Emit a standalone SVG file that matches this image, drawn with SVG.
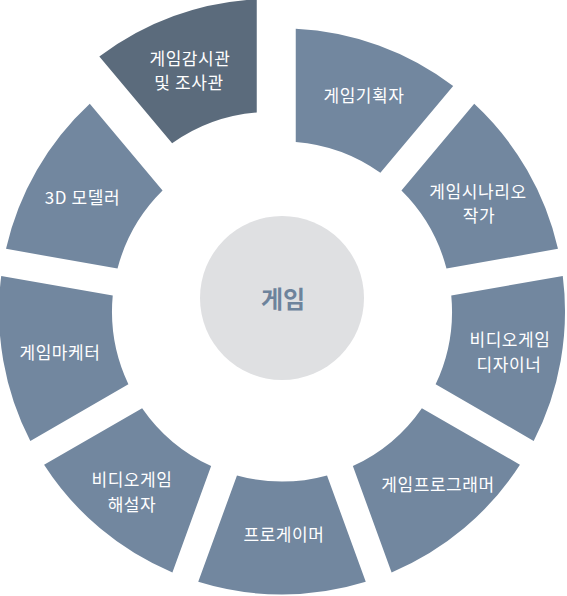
<svg xmlns="http://www.w3.org/2000/svg" width="567" height="596" viewBox="0 0 567 596">
<style>
.seg{fill:#72879f}
.dark{fill:#5b6b7c}
.lbl{font-family:"Noto Sans CJK KR","Noto Sans",sans-serif;font-size:17px;letter-spacing:0.6px;fill:#ffffff;text-anchor:middle}
.hub{fill:#dfe0e2}
.hubt{font-family:"Noto Sans CJK KR","Noto Sans",sans-serif;font-size:24px;font-weight:bold;fill:#6d839c;text-anchor:middle}
</style>
<rect width="567" height="596" fill="#ffffff"/>
<g id="n-inspector" transform="translate(-11.5,-29.5)">
<path class="dark" d="M110.83 86.12 A283 283 0 0 1 268.25 28.83 L268.25 142.06 A170 170 0 0 0 183.62 172.86 Z"/>
<text class="lbl" x="201.5" y="94">게임감시관</text>
<text class="lbl" x="200.5" y="118">및 조사관</text>
</g>
<g id="n-planner">
<path class="seg" d="M295.75 28.83 A283 283 0 0 1 453.17 86.12 L380.38 172.86 A170 170 0 0 0 295.75 142.06 Z"/>
<text class="lbl" x="364" y="102">게임기획자</text>
</g>
<g id="n-scenario">
<path class="seg" d="M474.23 103.8 A283 283 0 0 1 557.99 248.87 L446.48 268.54 A170 170 0 0 0 401.44 190.54 Z"/>
<text class="lbl" x="478" y="198">게임시나리오</text>
<text class="lbl" x="479" y="222">작가</text>
</g>
<g id="n-designer">
<path class="seg" d="M562.77 275.95 A283 283 0 0 1 533.68 440.93 L435.62 384.31 A170 170 0 0 0 451.26 295.62 Z"/>
<text class="lbl" x="510" y="345.5">비디오게임</text>
<text class="lbl" x="509" y="370.5">디자이너</text>
</g>
<g id="n-programmer">
<path class="seg" d="M519.93 464.75 A283 283 0 0 1 391.6 572.42 L352.87 466.02 A170 170 0 0 0 421.87 408.13 Z"/>
<text class="lbl" x="438" y="490.5">게임프로그래머</text>
</g>
<g id="n-progamer">
<path class="seg" d="M365.76 581.82 A283 283 0 0 1 198.24 581.82 L236.97 475.42 A170 170 0 0 0 327.03 475.42 Z"/>
<text class="lbl" x="284" y="540.5">프로게이머</text>
</g>
<g id="n-caster">
<path class="seg" d="M172.4 572.42 A283 283 0 0 1 44.08 464.75 L142.14 408.13 A170 170 0 0 0 211.13 466.02 Z"/>
<text class="lbl" x="132" y="485.5">비디오게임</text>
<text class="lbl" x="132" y="510.5">해설자</text>
</g>
<g id="n-marketer">
<path class="seg" d="M30.33 440.93 A283 283 0 0 1 1.23 275.95 L112.74 295.62 A170 170 0 0 0 128.39 384.31 Z"/>
<text class="lbl" x="60" y="359">게임마케터</text>
</g>
<g id="n-modeler">
<path class="seg" d="M6.01 248.87 A283 283 0 0 1 89.77 103.8 L162.56 190.54 A170 170 0 0 0 117.52 268.54 Z"/>
<text class="lbl" x="82.5" y="204">3D 모델러</text>
</g>
<g id="n-game">
<circle class="hub" cx="282" cy="298" r="82"/>
<text class="hubt" x="283" y="308">게임</text>
</g>
<g id="connectors"></g>
</svg>
